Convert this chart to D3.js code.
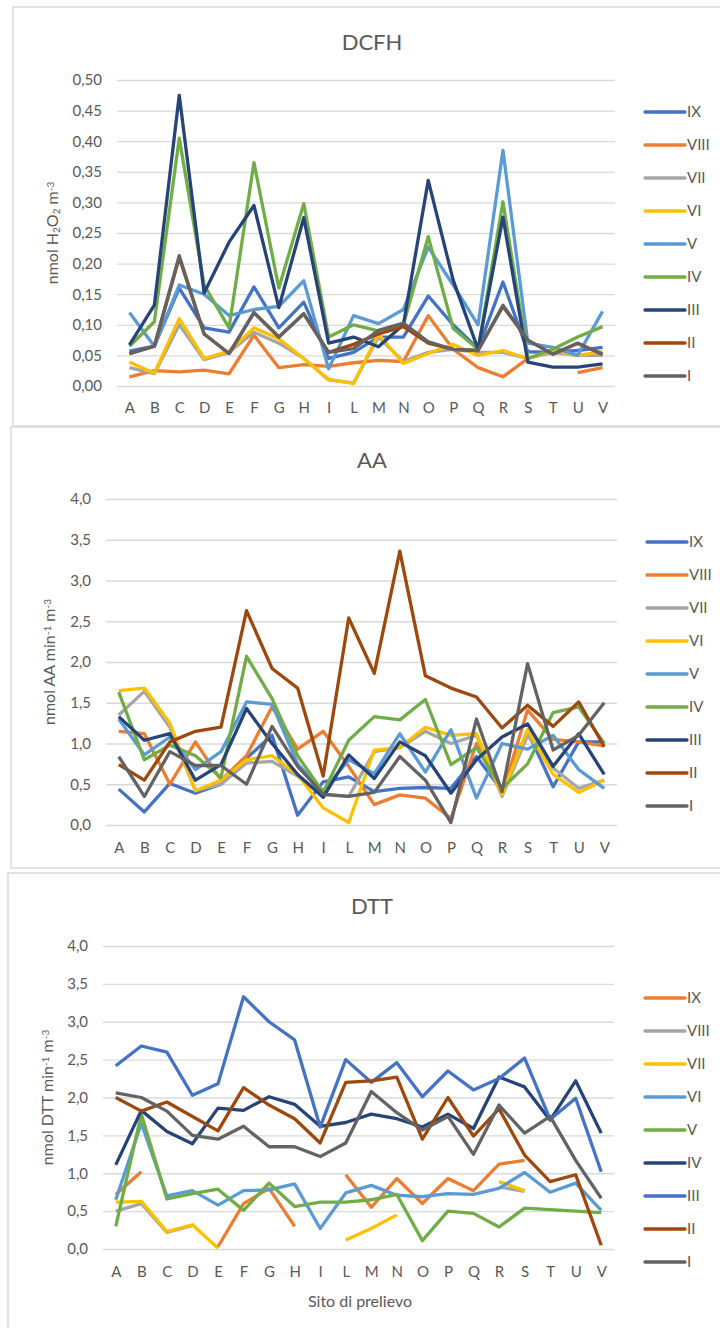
<!DOCTYPE html>
<html>
<head>
<meta charset="utf-8">
<script src="https://cdn.jsdelivr.net/npm/d3@7"></script>
<style>
body { margin: 0; background: #fff; }
text { font-family: Lato, "Open Sans", sans-serif; fill: #595959; }
</style>
</head>
<body>
<script>
const width = 720
const height = 1328

// sampling sites
const categories = ['A','B','C','D','E','F','G','H','I','L','M','N','O','P','Q','R','S','T','U','V']
const seriesNames = ['IX','VIII','VII','VI','V','IV','III','II','I']

const officeColors = ['#4472C4','#ED7D31','#A5A5A5','#FFC000','#5B9BD5','#70AD47','#264478','#9E480E','#636363']
const dttColors = ['#ED7D31','#A5A5A5','#FFC000','#5B9BD5','#70AD47','#264478','#4472C4','#9E480E','#636363']

const dcfhTicks = [0,0.05,0.1,0.15,0.2,0.25,0.3,0.35,0.4,0.45,0.5]
const aaTicks = [0,0.5,1,1.5,2,2.5,3,3.5,4]
const dttTicks = [0,0.5,1,1.5,2,2.5,3,3.5,4]

// DCFH, nmol H2O2 m-3
const dcfhIX   = [0.057,0.065,0.16,0.095,0.088,0.162,0.095,0.137,0.045,0.055,0.08,0.08,0.147,0.10,0.061,0.17,0.056,0.055,0.058,0.063]
const dcfhVIII = [0.015,0.025,0.023,0.026,0.02,0.083,0.03,0.035,0.032,0.038,0.042,0.04,0.115,0.06,0.03,0.015,0.045,null,0.022,0.03]
const dcfhVII  = [0.03,0.02,0.10,0.043,0.055,0.088,0.07,0.045,0.01,0.005,0.08,0.04,0.055,0.06,0.055,0.055,0.045,0.055,0.05,0.05]
const dcfhVI   = [0.039,0.021,0.11,0.045,0.057,0.095,0.077,0.045,0.011,0.004,0.085,0.037,0.053,0.068,0.05,0.058,0.045,0.058,0.05,0.056]
const dcfhV    = [0.12,0.065,0.165,0.15,0.115,0.125,0.13,0.172,0.028,0.115,0.102,0.125,0.227,0.165,0.10,0.385,0.07,0.063,0.05,0.122]
const dcfhIV   = [0.065,0.105,0.405,0.165,0.095,0.365,0.16,0.298,0.08,0.10,0.09,0.10,0.244,0.094,0.06,0.301,0.045,0.06,0.08,0.097]
const dcfhIII  = [0.067,0.132,0.475,0.152,0.235,0.295,0.128,0.275,0.07,0.08,0.064,0.10,0.336,0.173,0.06,0.276,0.039,0.031,0.031,0.036]
const dcfhII   = [0.053,0.065,0.21,0.085,0.053,0.12,0.08,0.118,0.055,0.068,0.085,0.097,0.07,0.06,0.058,0.13,0.075,0.052,0.07,0.052]
const dcfhI    = [0.053,0.065,0.213,0.085,0.053,0.12,0.08,0.118,0.055,0.061,0.091,0.103,0.072,0.06,0.058,0.132,0.075,0.052,0.07,0.052]

// AA, nmol AA min-1 m-3
const aaIX   = [0.44,0.16,0.51,0.39,0.5,0.82,1.1,0.12,0.53,0.59,0.41,0.45,0.46,0.45,0.84,0.42,1.15,0.47,1.02,1.02]
const aaVIII = [1.15,1.12,0.5,1.02,0.55,0.85,1.45,0.93,1.15,0.72,0.25,0.37,0.33,0.08,1.0,0.38,1.41,1.05,1.02,0.97]
const aaVII  = [1.35,1.64,1.2,0.42,0.5,0.76,0.78,0.6,0.37,0.35,0.9,0.95,1.15,1.0,1.1,0.35,1.1,0.7,0.45,0.55]
const aaVI   = [1.65,1.68,1.25,0.42,0.55,0.8,0.85,0.62,0.21,0.03,0.92,0.95,1.2,1.1,1.12,0.37,1.17,0.62,0.4,0.55]
const aaV    = [1.3,0.86,1.08,0.68,0.9,1.51,1.48,0.75,0.42,0.8,0.63,1.12,0.65,1.17,0.33,1.0,0.93,1.1,0.68,0.45]
const aaIV   = [1.63,0.8,0.98,0.85,0.58,2.07,1.55,0.85,0.4,1.04,1.33,1.29,1.54,0.74,0.95,0.45,0.75,1.38,1.45,1.0]
const aaIII  = [1.33,1.04,1.12,0.55,0.74,1.43,1.0,0.62,0.34,0.86,0.57,1.02,0.85,0.39,0.8,1.08,1.24,0.72,1.12,0.62]
const aaII   = [0.74,0.55,1.02,1.15,1.2,2.63,1.92,1.68,0.6,2.54,1.86,3.36,1.83,1.68,1.57,1.19,1.47,1.21,1.51,0.96]
const aaI    = [0.84,0.35,0.9,0.73,0.73,0.5,1.21,0.72,0.38,0.35,0.4,0.84,0.55,0.03,1.3,0.41,1.98,0.92,1.1,1.5]

// DTT, nmol DTT min-1 m-3
const dttIX   = [0.72,1.02,null,null,0.03,0.6,0.8,0.3,null,0.98,0.55,0.93,0.6,0.93,0.77,1.12,1.17,null,null,null]
const dttVIII = [0.5,0.6,0.22,0.31,null,null,null,null,null,null,null,null,null,null,null,0.82,0.76,null,null,null]
const dttVII  = [0.62,0.63,0.23,0.32,0.01,null,null,null,null,0.12,0.27,0.45,null,null,null,0.89,0.77,null,null,null]
const dttVI   = [0.65,1.66,0.7,0.77,0.58,0.77,0.78,0.86,0.27,0.74,0.84,0.71,0.69,0.73,0.72,0.8,1.01,0.75,0.87,0.51]
const dttV    = [0.3,1.78,0.66,0.73,0.79,0.51,0.87,0.56,0.62,0.62,0.65,0.72,0.11,0.5,0.47,0.29,0.54,0.52,0.5,0.48]
const dttIV   = [1.11,1.83,1.55,1.39,1.86,1.83,2.01,1.91,1.62,1.67,1.78,1.72,1.61,1.78,1.59,2.27,2.14,1.7,2.22,1.53]
const dttIII  = [2.42,2.68,2.6,2.03,2.18,3.33,3.0,2.76,1.61,2.5,2.2,2.46,2.01,2.35,2.1,2.25,2.52,1.71,1.99,1.02]
const dttII   = [2.0,1.82,1.94,1.75,1.56,2.13,1.9,1.72,1.4,2.2,2.22,2.27,1.45,2.0,1.49,1.85,1.24,0.89,0.98,0.05]
const dttI    = [2.06,2.0,1.82,1.5,1.45,1.62,1.35,1.35,1.22,1.4,2.08,1.8,1.57,1.75,1.25,1.9,1.53,1.75,1.17,0.67]

const svg = d3.select('body').append('svg')
  .attr('width', width)
  .attr('height', height)

const panels = [
  {
    title: 'DCFH', series: [dcfhIX,dcfhVIII,dcfhVII,dcfhVI,dcfhV,dcfhIV,dcfhIII,dcfhII,dcfhI],
    colors: officeColors, ticks: dcfhTicks, decimals: 2,
    box: [13, 7, 740, 419], plot: [117, 80, 615, 386],
    titleY: 42, labelY: 408, yTitleX: 52, legendX: 645, legendY: 112,
    yTitle: [['nmol H',0],['2',-1],['O',0],['2',-1],[' m',0],['-3',1]]
  },
  {
    title: 'AA', series: [aaIX,aaVIII,aaVII,aaVI,aaV,aaIV,aaIII,aaII,aaI],
    colors: officeColors, ticks: aaTicks, decimals: 1,
    box: [11, 427, 740, 441], plot: [106, 499, 617, 825],
    titleY: 460, labelY: 848, yTitleX: 49, legendX: 647, legendY: 542,
    yTitle: [['nmol AA min',0],['-1',1],[' m',0],['-3',1]]
  },
  {
    title: 'DTT', series: [dttIX,dttVIII,dttVII,dttVI,dttV,dttIV,dttIII,dttII,dttI],
    colors: dttColors, ticks: dttTicks, decimals: 1,
    box: [8, 873, 740, 480], plot: [103, 946, 614, 1249],
    titleY: 906, labelY: 1272, yTitleX: 47, legendX: 645, legendY: 998,
    yTitle: [['nmol DTT min',0],['-1',1],['  m',0],['-3',1]],
    xTitle: 'Sito di prelievo', xTitleY: 1301
  }
]

function drawPanel(p) {
  const g = svg.append('g')
  const [x0, y0, x1, y1] = p.plot

  g.append('rect')
    .attr('x', p.box[0]).attr('y', p.box[1])
    .attr('width', p.box[2]).attr('height', p.box[3])
    .attr('fill', '#fff')
    .attr('stroke', '#D9D9D9')
    .attr('stroke-width', 1.5)

  const x = d3.scalePoint().domain(categories).range([x0, x1]).padding(0.5)
  const y = d3.scaleLinear().domain([0, d3.max(p.ticks)]).range([y1, y0])
  const fmt = v => d3.format('.' + p.decimals + 'f')(v).replace('.', ',')

  // gridlines + tick labels
  const yAxis = g.append('g')
    .attr('transform', `translate(${x0},0)`)
    .call(d3.axisLeft(y).tickValues(p.ticks).tickFormat(fmt).tickSize(-(x1 - x0)).tickPadding(15))
  yAxis.select('.domain').remove()
  yAxis.selectAll('line').attr('stroke', '#D9D9D9').attr('stroke-width', 1.3)
  yAxis.selectAll('text').attr('fill', '#595959').style('font-size', '15px').style('font-family', 'Lato, sans-serif')

  const xAxis = g.append('g')
    .attr('transform', `translate(0,${p.labelY - 6})`)
    .call(d3.axisBottom(x).tickSize(0).tickPadding(0))
  xAxis.select('.domain').remove()
  xAxis.selectAll('text').attr('fill', '#595959').attr('dy', '0.35em').attr('y', 6)
    .style('font-size', '15px').style('font-family', 'Lato, sans-serif')

  const line = d3.line()
    .defined(d => d != null)
    .x((d, i) => x(categories[i]))
    .y(d => y(d))

  g.selectAll('path.series')
    .data(p.series)
    .join('path')
    .attr('class', 'series')
    .attr('d', d => line(d))
    .attr('fill', 'none')
    .attr('stroke', (d, i) => p.colors[i])
    .attr('stroke-width', 3.3)
    .attr('stroke-linejoin', 'round')

  // title
  g.append('text')
    .attr('x', 372).attr('y', p.titleY)
    .attr('text-anchor', 'middle').attr('dy', '0.35em')
    .style('font-size', '22px')
    .text(p.title)

  // y axis title
  const yt = g.append('text')
    .attr('transform', `translate(${p.yTitleX},${(y0 + y1) / 2}) rotate(-90)`)
    .attr('text-anchor', 'middle').attr('dy', '0.35em')
    .style('font-size', '16px')
  p.yTitle.forEach(([t, s]) => {
    yt.append('tspan')
      .attr('baseline-shift', s === 1 ? '45%' : s === -1 ? '-20%' : null)
      .style('font-size', s === 0 ? '16px' : '10px')
      .text(t)
  })

  if (p.xTitle) {
    g.append('text')
      .attr('x', 360).attr('y', p.xTitleY)
      .attr('text-anchor', 'middle').attr('dy', '0.35em')
      .style('font-size', '16px')
      .text(p.xTitle)
  }

  // legend
  const leg = g.selectAll('g.leg')
    .data(seriesNames)
    .join('g')
    .attr('class', 'leg')
    .attr('transform', (d, i) => `translate(${p.legendX},${p.legendY + i * 33})`)
  leg.append('line')
    .attr('x1', 0).attr('x2', 40)
    .attr('stroke', (d, i) => p.colors[i])
    .attr('stroke-width', 3.3)
    .attr('stroke-linecap', 'round')
  leg.append('text')
    .attr('x', 42).attr('dy', '0.35em')
    .style('font-size', '15px')
    .text(d => d)
}

panels.forEach(drawPanel)
</script>
</body>
</html>
